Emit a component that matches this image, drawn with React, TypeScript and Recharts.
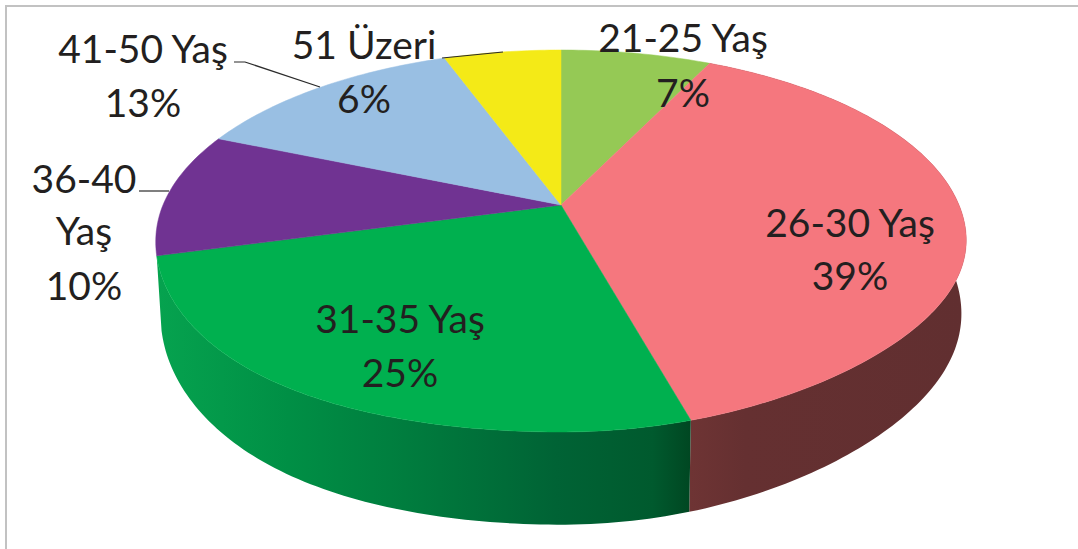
import { PieChart, Pie } from "recharts";

const CATEGORIES = ["21-25 Yaş", "26-30 Yaş", "31-35 Yaş", "36-40 Yaş", "41-50 Yaş", "51 Üzeri"];
const VALUES = [7.2, 38.5, 25.2, 10.4, 13.1, 5.6];
const TOP_COLORS = ["#95c955", "#f5777e", "#00b04f", "#703392", "#99bfe3", "#f4ea17"];
const WALL_COLORS = ["none", "url(#wallRed)", "url(#wallGreen)", "none", "none", "none"];

// name lines wrap like the original, last line is the percent
const NAME_LINES = [["21-25 Yaş"], ["26-30 Yaş"], ["31-35 Yaş"], ["36-40", "Yaş"], ["41-50 Yaş"], ["51 Üzeri"]];
const LABEL_SPOTS = [
  { x: 683, ys: [52, 107] },
  { x: 850, ys: [237, 290] },
  { x: 400, ys: [333, 387] },
  { x: 84, ys: [193, 245, 300] },
  { x: 143, ys: [63, 117] },
  { x: 364, ys: [59, 113] },
];
const LEADERS = [
  null,
  null,
  null,
  "139,191 169,191",
  "234,62 245,62 320,87",
  "442,58 503,52",
];

const topData = CATEGORIES.map((name, i) => ({ name, value: VALUES[i], fill: TOP_COLORS[i] }));
const wallData = CATEGORIES.map((name, i) => ({ name, value: VALUES[i], fill: WALL_COLORS[i] }));

const WIDTH = 1078;
const HEIGHT = 549;
const CX = 561;
const CY = 205;
const RX = 398;
const TILT = 0.1885; // perspective of the disc
const RY = 184.2 / 398;

// rim point of the tilted disc for a recharts angle (degrees)
function rim(r: number, angle: number) {
  const t = ((90 - angle) * Math.PI) / 180;
  const u = Math.sin(t);
  const v = -Math.cos(t);
  const w = 1 - TILT * v;
  // front of the original leans slightly to the left
  const lean = v > 0 ? -25 * u * v * Math.abs(u * v) : 0;
  return { x: (r * u) / w, y: (r * RY * v) / w + lean };
}

function arcPoints(r: number, from: number, to: number) {
  const pts = [];
  const steps = Math.max(2, Math.ceil(Math.abs(to - from)));
  for (let i = 0; i <= steps; i++) {
    pts.push(rim(r, from + ((to - from) * i) / steps));
  }
  return pts;
}

function TopSlice(props: any) {
  const { cx, cy, outerRadius, startAngle, endAngle, fill } = props;
  const pts = arcPoints(outerRadius, startAngle, endAngle);
  const d = pts.map((p) => `L${cx + p.x},${cy + p.y}`).join("");
  return <path d={`M${cx},${cy}${d}Z`} fill={fill} stroke={fill} strokeWidth={0.5} />;
}

function WallSlice(props: any) {
  const { cx, cy, outerRadius, startAngle, endAngle, fill } = props;
  if (fill === "none") return <g />;
  const pts = arcPoints(outerRadius, startAngle, endAngle);
  const upper = pts.map((p) => `${cx + p.x},${cy + p.y}`);
  const lower = pts
    .map((p) => `${cx + p.x * 0.988},${cy + 70 + p.y * 1.1}`)
    .reverse();
  return <polygon points={[...upper, ...lower].join(" ")} fill={fill} />;
}

function renderLabel(props: any) {
  const i = props.index;
  const spot = LABEL_SPOTS[i];
  const lines = [...NAME_LINES[i], `${Math.round(VALUES[i])}%`];
  return (
    <g key={CATEGORIES[i]}>
      {LEADERS[i] && <polyline points={LEADERS[i]} fill="none" stroke="#2b2b2b" strokeWidth={1.2} />}
      {lines.map((line, k) => (
        <text
          key={k}
          x={spot.x}
          y={spot.ys[k]}
          textAnchor="middle"
          fontFamily="Lato, sans-serif"
          fontSize={39}
          fill="#231f20"
        >
          {line}
        </text>
      ))}
    </g>
  );
}

export default function App() {
  return (
    <div style={{ position: "absolute", left: 0, top: 0, width: WIDTH, height: HEIGHT, background: "#fff", overflow: "hidden" }}>
      <div
        style={{
          position: "absolute",
          left: 5,
          top: 5,
          right: 0,
          bottom: 0,
          borderLeft: "2px solid #c2c2c2",
          borderTop: "2px solid #c2c2c2",
        }}
      />
      <div style={{ position: "absolute", left: 0, top: 0 }}>
        <PieChart width={WIDTH} height={HEIGHT} margin={{ top: 0, right: 0, bottom: 0, left: 0 }}>
          <defs>
            <linearGradient id="wallGreen" gradientUnits="userSpaceOnUse" x1="155" y1="0" x2="690" y2="0">
              <stop offset="0" stopColor="#06a34f" />
              <stop offset="0.25" stopColor="#008f45" />
              <stop offset="0.5" stopColor="#007a3d" />
              <stop offset="0.75" stopColor="#006335" />
              <stop offset="0.93" stopColor="#005a2e" />
              <stop offset="1" stopColor="#004722" />
            </linearGradient>
            <linearGradient id="wallRed" gradientUnits="userSpaceOnUse" x1="690" y1="0" x2="965" y2="0">
              <stop offset="0" stopColor="#6e3434" />
              <stop offset="0.2" stopColor="#653031" />
              <stop offset="1" stopColor="#612f30" />
            </linearGradient>
          </defs>
          <Pie
            data={wallData}
            dataKey="value"
            nameKey="name"
            cx={CX}
            cy={CY}
            outerRadius={RX}
            startAngle={90}
            endAngle={-270}
            stroke="none"
            shape={WallSlice}
            isAnimationActive={false}
          />
          <Pie
            data={topData}
            dataKey="value"
            nameKey="name"
            cx={CX}
            cy={CY}
            outerRadius={RX}
            startAngle={90}
            endAngle={-270}
            stroke="none"
            shape={TopSlice}
            label={renderLabel}
            labelLine={false}
            isAnimationActive={false}
          />
        </PieChart>
      </div>
    </div>
  );
}
